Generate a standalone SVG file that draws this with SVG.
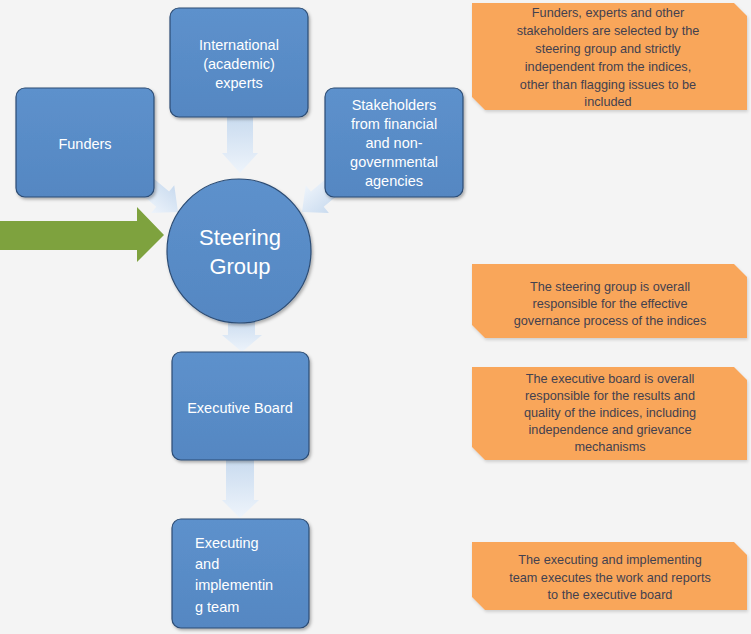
<svg xmlns="http://www.w3.org/2000/svg" width="751" height="634" viewBox="0 0 751 634">
<defs>
<linearGradient id="ag" x1="0" y1="0" x2="0" y2="1">
<stop offset="0" stop-color="#c9dbef"/>
<stop offset="1" stop-color="#eef4fb"/>
</linearGradient>
<linearGradient id="bf" x1="0" y1="0" x2="0" y2="1">
<stop offset="0" stop-color="#5d91cc"/>
<stop offset="1" stop-color="#5587c2"/>
</linearGradient>
<filter id="sh" x="-10%" y="-10%" width="125%" height="125%">
<feDropShadow dx="1.5" dy="2" stdDeviation="1.5" flood-color="#000" flood-opacity="0.3"/>
</filter>
<filter id="osh" x="-5%" y="-5%" width="110%" height="115%">
<feDropShadow dx="1" dy="2" stdDeviation="1.5" flood-color="#000" flood-opacity="0.15"/>
</filter>
</defs>
<style>
.box{fill:url(#bf);stroke:#2c4c74;stroke-width:1.2;filter:url(#sh)}
.bt{font-family:"Liberation Sans",Arial,sans-serif;font-size:14.5px;fill:#ffffff;text-anchor:middle}
.bl{font-family:"Liberation Sans",Arial,sans-serif;font-size:14.5px;fill:#ffffff;text-anchor:start}
.big{font-family:"Liberation Sans",Arial,sans-serif;font-size:22px;fill:#ffffff;text-anchor:middle}
.call{fill:#f9a65a;filter:url(#osh)}
.ct{font-family:"Liberation Sans",Arial,sans-serif;font-size:12.7px;fill:#43414f;text-anchor:middle}
.arr{fill:url(#ag)}
</style>
<rect width="751" height="634" fill="#f4f4f4"/>
<g id="connectors">
<path class="arr" d="M227,117 H253 V153 H258 L240,173 L222,153 H227 Z"/>
<path class="arr" transform="translate(178,212) rotate(40)" d="M0,0 L-20,-18 L-20,-10 L-50,-10 L-50,10 L-20,10 L-20,18 Z"/>
<path class="arr" transform="translate(302,212) rotate(140)" d="M0,0 L-20,-18 L-20,-10 L-50,-10 L-50,10 L-20,10 L-20,18 Z"/>
<path class="arr" d="M228,318 H255 V335 H262 L242,352 L222,335 H228 Z"/>
<path class="arr" d="M226,460 H254 V500 H259 L240,518 L222,500 H226 Z"/>
<path d="M0,221 H137 V207 L164,235 L137,262 V250 H0 Z" fill="#7ea23e"/>
</g>
<g id="funders">
<rect class="box" x="16" y="88" width="138" height="109" rx="9"/>
<text class="bt" x="85" y="149">Funders</text>
</g>
<g id="experts">
<rect class="box" x="170" y="8" width="138" height="109" rx="9"/>
<text class="bt" x="239" y="50">International</text>
<text class="bt" x="239" y="69">(academic)</text>
<text class="bt" x="239" y="88">experts</text>
</g>
<g id="stakeholders">
<rect class="box" x="325" y="88" width="138" height="109" rx="9"/>
<text class="bt" x="394" y="110">Stakeholders</text>
<text class="bt" x="394" y="129">from financial</text>
<text class="bt" x="394" y="148">and non-</text>
<text class="bt" x="394" y="167">governmental</text>
<text class="bt" x="394" y="186">agencies</text>
</g>
<g id="steering">
<circle class="box" cx="239" cy="251" r="72"/>
<text class="big" x="240" y="245">Steering</text>
<text class="big" x="240" y="274">Group</text>
</g>
<g id="executive">
<rect class="box" x="172" y="352" width="137" height="108" rx="9"/>
<text class="bt" x="240" y="413">Executive Board</text>
</g>
<g id="executing">
<rect class="box" x="172" y="519" width="137" height="109" rx="9"/>
<text class="bl" x="195" y="548">Executing</text>
<text class="bl" x="195" y="569">and</text>
<text class="bl" x="195" y="590">implementin</text>
<text class="bl" x="195" y="612">g team</text>
</g>
<g id="note1">
<path class="call" d="M472,3 H734 L747,16 V110 H485 L472,97 Z"/>
<text class="ct" x="608" y="17">Funders, experts and other</text>
<text class="ct" x="608" y="35">stakeholders are  selected by the</text>
<text class="ct" x="608" y="53">steering group and strictly</text>
<text class="ct" x="608" y="71">independent from the indices,</text>
<text class="ct" x="608" y="89">other than flagging issues to be</text>
<text class="ct" x="608" y="106">included</text>
</g>
<g id="note2">
<path class="call" d="M472,264 H734 L747,277 V338 H485 L472,325 Z"/>
<text class="ct" x="610" y="291">The steering group is overall</text>
<text class="ct" x="610" y="308">responsible for the effective</text>
<text class="ct" x="610" y="325">governance process of the indices</text>
</g>
<g id="note3">
<path class="call" d="M472,367 H734 L747,380 V460 H485 L472,447 Z"/>
<text class="ct" x="610" y="383">The executive board is overall</text>
<text class="ct" x="610" y="400">responsible for the results and</text>
<text class="ct" x="610" y="417">quality of the indices, including</text>
<text class="ct" x="610" y="434">independence and grievance</text>
<text class="ct" x="610" y="451">mechanisms</text>
</g>
<g id="note4">
<path class="call" d="M472,542 H734 L747,555 V610 H485 L472,597 Z"/>
<text class="ct" x="610" y="564">The executing and implementing</text>
<text class="ct" x="610" y="582">team executes the work and reports</text>
<text class="ct" x="610" y="599">to the executive board</text>
</g>
</svg>
